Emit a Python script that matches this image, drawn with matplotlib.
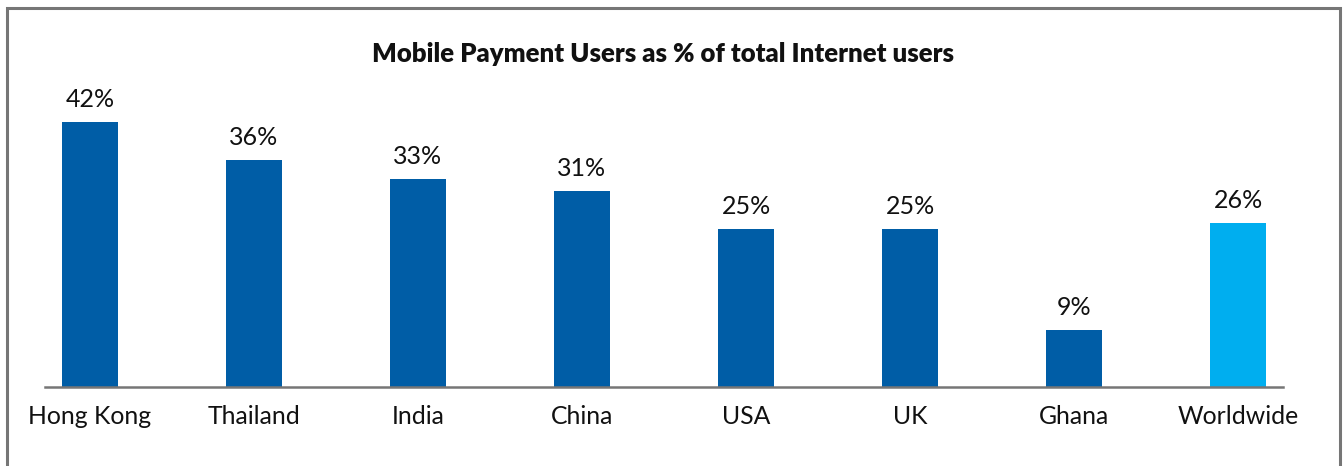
import matplotlib.pyplot as plt
from matplotlib.patches import Rectangle

countries = ["Hong Kong", "Thailand", "India", "China", "USA", "UK", "Ghana", "Worldwide"]
share_pct = [42, 36, 33, 31, 25, 25, 9, 26]
bar_colors = ["#005DA6"] * 7 + ["#00AEEF"]

plt.rcParams["font.family"] = ["Lato", "DejaVu Sans"]

fig = plt.figure(figsize=(13.44, 4.66), dpi=100)
ax = fig.add_axes([45 / 1344, 1 - 387 / 466, (1283 - 45) / 1344, (387 - 71.5) / 466])

x = range(len(countries))
bars = ax.bar(x, share_pct, width=0.34, color=bar_colors, zorder=2)
for rect, v in zip(bars, share_pct):
    ax.annotate(f"{v}%", (rect.get_x() + rect.get_width() / 2, v),
                xytext=(0, 8), textcoords="offset points",
                ha="center", va="bottom", fontsize=18, color="#111111")

ax.set_xlim(-0.274, 7.274)
ax.set_ylim(0, 50)
ax.set_xticks(list(x))
ax.set_xticklabels(countries, fontsize=17.8, color="#111111")
ax.tick_params(axis="x", length=0, pad=13)
ax.set_yticks([])
for side in ["top", "right", "left"]:
    ax.spines[side].set_visible(False)
ax.spines["bottom"].set_color("#767676")
ax.spines["bottom"].set_linewidth(1.8)

fig.text(663 / 1344, 1 - 54 / 466, "Mobile Payment Users as % of total Internet users",
         ha="center", va="center", fontsize=18.5, fontweight="heavy", color="#111111")

# outer frame, open at the bottom edge
fig.patches.append(Rectangle((7 / 1344, -0.05), (1340 - 7) / 1344, 1.05 - 8 / 466,
                             transform=fig.transFigure, fill=False,
                             edgecolor="#767676", linewidth=2.2))

fig.savefig("out.png", dpi=100)
